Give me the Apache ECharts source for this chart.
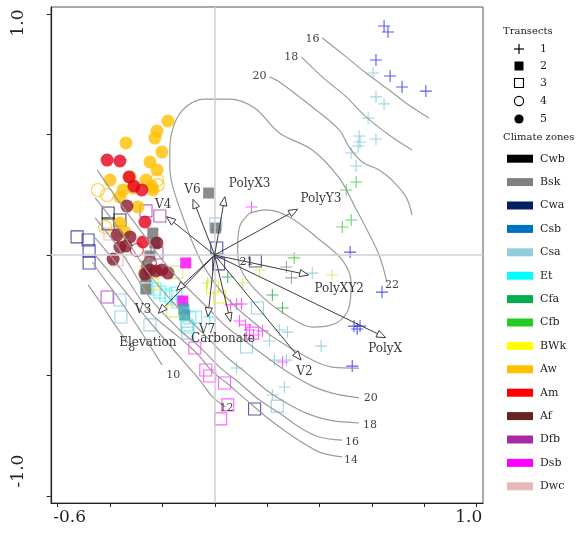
<!DOCTYPE html>
<html><head><meta charset="utf-8">
<script src="https://cdn.jsdelivr.net/npm/echarts@6/dist/echarts.min.js"></script>
<style>html,body{margin:0;padding:0;background:#fff}#c{width:586px;height:533px}</style>
</head><body><div id="c"></div>
<script>
// ---------- data (ordination scores) ----------
const plusBlue = [[0.649,0.950],[0.664,0.925],[0.618,0.809],[0.672,0.743],[0.718,0.697],[0.809,0.680],[0.519,0.012],[0.641,-0.154],[0.534,-0.295],[0.546,-0.307],[0.557,-0.295],[0.527,-0.461]];
const plusCsa = [[0.607,0.755],[0.618,0.656],[0.649,0.627],[0.588,0.568],[0.553,0.494],[0.557,0.469],[0.618,0.481],[0.550,0.452],[0.523,0.423],[0.542,0.369],[0.374,-0.075],[0.408,-0.378],[0.248,-0.311],[0.279,-0.320],[0.210,-0.357],[0.229,-0.436],[0.275,-0.436],[0.084,-0.469],[0.267,-0.548],[0.221,-0.581]];
const plusCfb = [[0.542,0.303],[0.504,0.270],[0.489,0.116],[0.523,0.145],[0.305,-0.012]];
const plusCfa = [[0.221,-0.166],[0.260,-0.220],[0.050,-0.091]];
const plusLime = [[0.450,-0.083],[0.172,-0.062],[0.107,-0.116],[-0.027,-0.116]];
const plusBsk = [[0.275,-0.050],[0.294,-0.095]];
const plusDsb = [[0.141,0.199],[0.061,-0.207],[0.084,-0.203],[0.103,-0.203],[0.095,-0.274],[0.118,-0.290],[0.134,-0.311],[0.149,-0.332],[0.183,-0.315],[0.260,-0.444]];
const plusEt = [[-0.019,-0.257]];

const fsqBsk = [[-0.237,0.091],[-0.229,0.050],[-0.248,-0.004],[-0.260,-0.046],[-0.263,-0.091],[-0.263,-0.141],[-0.023,0.257],[0.004,0.112]];
const fsqDsb = [[-0.111,-0.033],[-0.122,-0.191]];
const fsqTeal = [[-0.115,-0.249],[-0.118,-0.224]];

const osqCwa = [[-0.527,0.075],[-0.485,0.062],[-0.481,0.017],[-0.481,-0.033],[0.008,0.029],[0.015,-0.037],[0.156,-0.025],[0.153,-0.639]];
const osqCwb = [[-0.408,0.174],[-0.408,0.129],[-0.363,0.145]];
const osqDfb = [[-0.263,0.183],[-0.210,0.162],[-0.221,0.008],[-0.412,-0.174]];
const osqDsb = [[-0.076,-0.386],[-0.034,-0.477],[-0.019,-0.502],[0.038,-0.531],[0.050,-0.622],[0.023,-0.680],[0.145,-0.324]];
const osqDwc = [[-0.401,0.087],[-0.374,-0.021]];
const osqCsa = [[-0.363,-0.187],[-0.359,-0.257],[-0.248,-0.290],[-0.073,-0.257],[-0.103,-0.299],[-0.103,-0.324],[0.122,-0.382],[0.164,-0.220],[0.240,-0.627],[0.004,0.129]];
const osqEt = [[-0.260,-0.133],[-0.229,-0.141],[-0.210,-0.154],[-0.187,-0.166],[-0.168,-0.174],[-0.149,-0.158],[-0.141,-0.195],[-0.107,-0.290],[-0.095,-0.261]];
const osqBWk = [[-0.008,-0.133],[0.019,-0.174],[-0.263,-0.071],[-0.240,-0.120]];
const osqLime = [[-0.145,-0.071],[-0.160,-0.232]];

const ociAw = [[-0.447,0.270],[-0.412,0.249],[-0.221,0.311],[-0.218,0.290],[-0.420,0.116]];
const ociAm = [[-0.248,-0.033],[-0.298,0.021]];

const fciAw = [[-0.179,0.556],[-0.221,0.515],[-0.229,0.485],[-0.340,0.465],[-0.202,0.427],[-0.248,0.386],[-0.221,0.353],[-0.401,0.311],[-0.324,0.324],[-0.263,0.311],[-0.351,0.270],[-0.363,0.241],[-0.294,0.199],[-0.363,0.133],[-0.344,0.095],[-0.313,0.278],[-0.237,0.270],[-0.240,0.286]];
const fciAm = [[-0.412,0.394],[-0.363,0.390],[-0.328,0.324],[-0.309,0.286],[-0.279,0.270],[-0.267,0.137],[-0.275,0.054]];
const fciAf = [[-0.336,0.203],[-0.374,0.083],[-0.340,0.037],[-0.324,0.075],[-0.389,-0.017],[-0.221,0.050],[-0.267,-0.079],[-0.248,-0.062],[-0.225,-0.066],[-0.202,-0.062],[-0.179,-0.075],[-0.363,0.033]];

// biplot arrows
const arrowNames = ['V6','PolyX3','PolyY3','V4','PolyXY2','PolyX','V2','Carbonate','V7','V3','Elevation'];
const arrowX = [-0.083,0.039,0.318,-0.184,0.360,0.655,0.331,0.061,-0.026,-0.216,-0.146];
const arrowY = [0.231,0.242,0.190,0.159,-0.083,-0.343,-0.436,-0.277,-0.256,-0.242,-0.147];
const arrowLabelX = [-0.085,0.134,0.407,-0.197,0.477,0.653,0.344,0.032,-0.029,-0.274,-0.256];
const arrowLabelY = [0.270,0.295,0.231,0.207,-0.142,-0.391,-0.484,-0.350,-0.311,-0.228,-0.364];

// fitted surface contours
const c16top = [[0.412,0.900],[0.504,0.822],[0.580,0.755],[0.668,0.685],[0.744,0.622],[0.821,0.568]];
const c18top = [[0.332,0.822],[0.412,0.739],[0.504,0.656],[0.580,0.573],[0.668,0.498],[0.756,0.436]];
const c20top = [[0.210,0.739],[0.248,0.718],[0.374,0.614],[0.477,0.519],[0.515,0.448],[0.565,0.386],[0.630,0.353],[0.679,0.311],[0.733,0.241],[0.756,0.166]];
const c21loop = [[0.134,0.174],[0.198,0.187],[0.286,0.158],[0.389,0.075],[0.489,-0.021],[0.523,-0.116],[0.515,-0.216],[0.466,-0.282],[0.374,-0.299],[0.286,-0.257],[0.183,-0.174],[0.107,-0.075],[0.088,0.021],[0.095,0.116],[0.134,0.174]];
const c22 = [[0.553,-0.469],[0.450,-0.465],[0.374,-0.436],[0.229,-0.344],[0.115,-0.249],[0.027,-0.154],[-0.038,-0.054],[-0.084,0.050],[-0.122,0.158],[-0.160,0.282],[-0.172,0.365],[-0.172,0.436],[-0.156,0.539],[-0.111,0.614],[-0.038,0.647],[0.057,0.647],[0.153,0.610],[0.248,0.506],[0.374,0.436],[0.477,0.320],[0.534,0.207],[0.584,0.104],[0.630,0.000],[0.660,-0.112]];
const c20bot = [[-0.450,0.353],[-0.363,0.216],[-0.286,0.104],[-0.210,-0.008],[-0.134,-0.104],[-0.084,-0.158],[-0.019,-0.228],[0.046,-0.299],[0.122,-0.361],[0.198,-0.423],[0.286,-0.490],[0.374,-0.544],[0.450,-0.573],[0.553,-0.593]];
const c18bot = [[-0.458,0.237],[-0.363,0.104],[-0.248,-0.083],[-0.134,-0.228],[-0.095,-0.270],[-0.031,-0.340],[0.046,-0.423],[0.122,-0.490],[0.198,-0.560],[0.275,-0.614],[0.351,-0.656],[0.439,-0.685],[0.553,-0.697]];
const c16bot = [[-0.458,0.154],[-0.363,0.021],[-0.248,-0.178],[-0.134,-0.311],[-0.057,-0.382],[0.019,-0.465],[0.095,-0.531],[0.172,-0.602],[0.248,-0.656],[0.324,-0.714],[0.401,-0.755],[0.489,-0.768]];
const c14bot = [[-0.458,0.071],[-0.363,-0.054],[-0.248,-0.237],[-0.134,-0.344],[-0.069,-0.407],[-0.008,-0.485],[0.046,-0.531],[0.122,-0.602],[0.198,-0.672],[0.275,-0.734],[0.351,-0.788],[0.412,-0.822],[0.489,-0.838]];
const c12 = [[-0.458,0.000],[-0.363,-0.124],[-0.248,-0.278],[-0.134,-0.423],[-0.057,-0.519],[-0.008,-0.589],[0.042,-0.631]];
const c10 = [[-0.469,-0.029],[-0.420,-0.104],[-0.363,-0.187],[-0.286,-0.311],[-0.202,-0.456]];
const c8 = [[-0.485,-0.124],[-0.439,-0.195],[-0.382,-0.290],[-0.332,-0.365]];

const contourLabelText = ['16','18','20','21','22','20','18','16','14','12','10','8'];
const contourLabelX = [0.375,0.293,0.172,0.122,0.679,0.598,0.595,0.526,0.522,0.045,-0.159,-0.318];
const contourLabelY = [0.896,0.820,0.743,-0.029,-0.124,-0.593,-0.705,-0.777,-0.851,-0.634,-0.498,-0.387];

// axes
const xTickLabels = [-0.6, 1.0];
const yTickLabels = [1.0, -1.0];

// legend
const transectLabels = ['1','2','3','4','5'];
const zoneNames = ['Cwb','Bsk','Cwa','Csb','Csa','Et','Cfa','Cfb','BWk','Aw','Am','Af','Dfb','Dsb','Dwc'];
const zoneColors = ['#000000','#808080','#002060','#0070c0','#92cddc','#00ffff','#00b050','#22cc22','#ffff00','#ffc000','#ff0000','#632523','#a52aa5','#ff00ff','#e6b9b8'];

// ---------- chart ----------
const SERIF = '"DejaVu Serif", serif';
const PLUS = 'path://M0,5L10,5M5,0L5,10';

function pts(name, data, shape, color, size) {
  const s = {type:'scatter', name, data, xAxisIndex:0, yAxisIndex:0, silent:true, animation:false};
  if (shape === 'plus') { s.symbol = PLUS; s.symbolSize = size||12; s.itemStyle = {color:'rgba(0,0,0,0)', borderColor:color, borderWidth:1.1}; }
  else if (shape === 'fsq') { s.symbol = 'rect'; s.symbolSize = size||11; s.itemStyle = {color, borderWidth:0}; }
  else if (shape === 'osq') { s.symbol = 'rect'; s.symbolSize = size||12; s.itemStyle = {color:'rgba(0,0,0,0)', borderColor:color, borderWidth:1.1}; }
  else if (shape === 'oci') { s.symbol = 'circle'; s.symbolSize = size||13; s.itemStyle = {color:'rgba(0,0,0,0)', borderColor:color, borderWidth:1.1}; }
  else { s.symbol = 'circle'; s.symbolSize = size||13; s.itemStyle = {color, borderWidth:0}; }
  return s;
}
function contour(data) {
  return {type:'line', data, xAxisIndex:0, yAxisIndex:0, smooth:0.35, symbol:'none', silent:true, animation:false,
    lineStyle:{color:'#9c9c9c', width:1.2}};
}

const arrowData = arrowX.map((x,i)=>[x, arrowY[i]]);
const arrowLabelData = arrowLabelX.map((x,i)=>[x, arrowLabelY[i]]);
const contourLabelData = contourLabelX.map((x,i)=>[x, contourLabelY[i]]);

const series = [
  contour(c16top), contour(c18top), contour(c20top), contour(c21loop), contour(c22),
  contour(c20bot), contour(c18bot), contour(c16bot), contour(c14bot), contour(c12), contour(c10), contour(c8),
  {type:'scatter', data:[], xAxisIndex:0, yAxisIndex:0, silent:true,
   markLine:{silent:true, symbol:'none', animation:false, label:{show:false}, lineStyle:{color:'#cfcfcf', width:1.5, type:'solid'},
     data:[{xAxis:0},{yAxis:0}]}},
  pts('Csa', osqCsa, 'osq', '#86c9dc'),
  pts('Et', osqEt, 'osq', '#4deeee'),
  pts('Cwa', osqCwa, 'osq', '#2a2a96'),
  pts('Cwb', osqCwb, 'osq', '#222222'),
  pts('Dfb', osqDfb, 'osq', '#a93ab9'),
  pts('Dsb', osqDsb, 'osq', '#ff3cff'),
  pts('Dwc', osqDwc, 'osq', '#e8a8b0'),
  pts('BWk', osqBWk, 'osq', '#e8e800'),
  pts('BWk2', osqLime, 'osq', '#c6ec55'),
  pts('Csa1', plusCsa, 'plus', '#86c9dc'),
  pts('Cwa1', plusBlue, 'plus', '#3030f0'),
  pts('Cfb1', plusCfb, 'plus', '#44cc44'),
  pts('Cfa1', plusCfa, 'plus', '#2aa84a'),
  pts('BWk1', plusLime, 'plus', '#c6ec55'),
  pts('Bsk1', plusBsk, 'plus', '#8c8c8c'),
  pts('Dsb1', plusDsb, 'plus', '#ff3cff'),
  pts('Et1', plusEt, 'plus', '#40d8e8'),
  pts('Bsk2', fsqBsk, 'fsq', '#6e6e6e'),
  pts('Dsb2', fsqDsb, 'fsq', '#ff00ff'),
  pts('Csb2', fsqTeal, 'fsq', '#3aa6b5'),
  pts('Aw4', ociAw, 'oci', '#ffc000'),
  pts('Am4', ociAm, 'oci', '#e3102a'),
  pts('Aw5', fciAw, 'fci', '#ffbf00'),
  pts('Am5', fciAm, 'fci', '#e3001b'),
  pts('Af5', fciAf, 'fci', '#8a1a2e'),
  {type:'custom', xAxisIndex:0, yAxisIndex:0, data:arrowData, silent:true, animation:false, z:5,
    renderItem:function(params, api){
      const p0 = api.coord([0,0]);
      const p1 = api.coord([api.value(0), api.value(1)]);
      const dx=p1[0]-p0[0], dy=p1[1]-p0[1], L=Math.hypot(dx,dy);
      const ux=dx/L, uy=dy/L, hl=9, hw=3.6;
      const bx=p1[0]-ux*hl, by=p1[1]-uy*hl;
      return {type:'group', children:[
        {type:'line', shape:{x1:p0[0],y1:p0[1],x2:bx,y2:by}, style:{stroke:'#3c3c3c', lineWidth:1}},
        {type:'polygon', shape:{points:[[p1[0],p1[1]],[bx-uy*hw,by+ux*hw],[bx+uy*hw,by-ux*hw]]}, style:{fill:'#ffffff', stroke:'#3c3c3c', lineWidth:1}}
      ]};
    }},
  {type:'custom', xAxisIndex:0, yAxisIndex:0, data:arrowLabelData, silent:true, animation:false, z:6,
    renderItem:function(params, api){
      const p = api.coord([api.value(0), api.value(1)]);
      return {type:'text', x:p[0], y:p[1], style:{text:arrowNames[params.dataIndex], fill:'#3a3a3a', font:'12px '+SERIF, align:'center', verticalAlign:'middle'}};
    }},
  {type:'custom', xAxisIndex:0, yAxisIndex:0, data:contourLabelData, silent:true, animation:false, z:6,
    renderItem:function(params, api){
      const p = api.coord([api.value(0), api.value(1)]);
      return {type:'text', x:p[0], y:p[1], style:{text:contourLabelText[params.dataIndex], fill:'#444', font:'11px '+SERIF, align:'center', verticalAlign:'middle'}};
    }}
];

const chart = echarts.init(document.getElementById('c'), null, {renderer:'canvas'});
chart.setOption({
  animation:false,
  backgroundColor:'#ffffff',
  grid:[
    {left:51, right:103, top:7, bottom:30, show:true, borderColor:'#555', borderWidth:1, backgroundColor:'transparent'},
    {left:57.7, right:109.3, top:14, bottom:37, show:false}
  ],
  xAxis:[
    {type:'value', gridIndex:0, min:-0.627, max:1.028, axisLine:{show:true, onZero:false, lineStyle:{color:'#222', width:1.2}}, axisTick:{show:false}, axisLabel:{show:false}, splitLine:{show:false}},
    {type:'value', gridIndex:1, min:-0.6, max:1.0, interval:0.2, offset:7, position:'bottom', axisLine:{show:false, onZero:false}, axisTick:{show:true, length:4, lineStyle:{color:'#222'}}, axisLabel:{show:false}, splitLine:{show:false}}
  ],
  yAxis:[
    {type:'value', gridIndex:0, min:-1.029, max:1.029, axisLine:{show:true, onZero:false, lineStyle:{color:'#222', width:1.2}}, axisTick:{show:false}, axisLabel:{show:false}, splitLine:{show:false}},
    {type:'value', gridIndex:1, min:-1.0, max:1.0, interval:0.5, offset:7, position:'left', axisLine:{show:false, onZero:false}, axisTick:{show:true, length:4, lineStyle:{color:'#222'}}, axisLabel:{show:false}, splitLine:{show:false}}
  ],
  series
});

// tick labels + legend (graphic)
const g = [];
xTickLabels.forEach((v,i)=>{
  const px = chart.convertToPixel({xAxisIndex:1}, v);
  g.push({type:'text', x:px + (i===0?12:-8), y:518, style:{text:v.toFixed(1), font:'17px '+SERIF, fill:'#222', align:'center', verticalAlign:'middle'}});
});
yTickLabels.forEach((v,i)=>{
  const py = chart.convertToPixel({yAxisIndex:1}, v);
  g.push({type:'text', x:19, y:py + (i===0?9:-25), rotation:Math.PI/2, style:{text:v.toFixed(1), font:'17px '+SERIF, fill:'#222', align:'center', verticalAlign:'middle'}});
});
const LX = 519, LT = 540;
g.push({type:'text', x:503, y:31, style:{text:'Transects', font:'10px '+SERIF, fill:'#222', align:'left', verticalAlign:'middle'}});
const rowY = [49,66,83,101,119];
transectLabels.forEach((t,i)=>{
  const y = rowY[i];
  if (i===0) { g.push({type:'line', shape:{x1:LX-5,y1:y,x2:LX+5,y2:y}, style:{stroke:'#000',lineWidth:1.2}}, {type:'line', shape:{x1:LX,y1:y-5,x2:LX,y2:y+5}, style:{stroke:'#000',lineWidth:1.2}}); }
  else if (i===1) g.push({type:'rect', shape:{x:LX-4.5,y:y-4.5,width:9,height:9}, style:{fill:'#000'}});
  else if (i===2) g.push({type:'rect', shape:{x:LX-4.5,y:y-4.5,width:9,height:9}, style:{fill:'none',stroke:'#000',lineWidth:1.1}});
  else if (i===3) g.push({type:'circle', shape:{cx:LX,cy:y,r:4.6}, style:{fill:'none',stroke:'#000',lineWidth:1.1}});
  else g.push({type:'circle', shape:{cx:LX,cy:y,r:4.6}, style:{fill:'#000'}});
  g.push({type:'text', x:LT, y:y, style:{text:t, font:'11px '+SERIF, fill:'#222', align:'left', verticalAlign:'middle'}});
});
g.push({type:'text', x:503, y:137, style:{text:'Climate zones', font:'10px '+SERIF, fill:'#222', align:'left', verticalAlign:'middle'}});
zoneNames.forEach((z,i)=>{
  const y = 158.7 + i*23.4;
  g.push({type:'rect', shape:{x:507,y:y-4,width:26,height:8}, style:{fill:zoneColors[i]}});
  g.push({type:'text', x:LT, y:y, style:{text:z, font:'11px '+SERIF, fill:'#222', align:'left', verticalAlign:'middle'}});
});
chart.setOption({graphic:g});
</script></body></html>
